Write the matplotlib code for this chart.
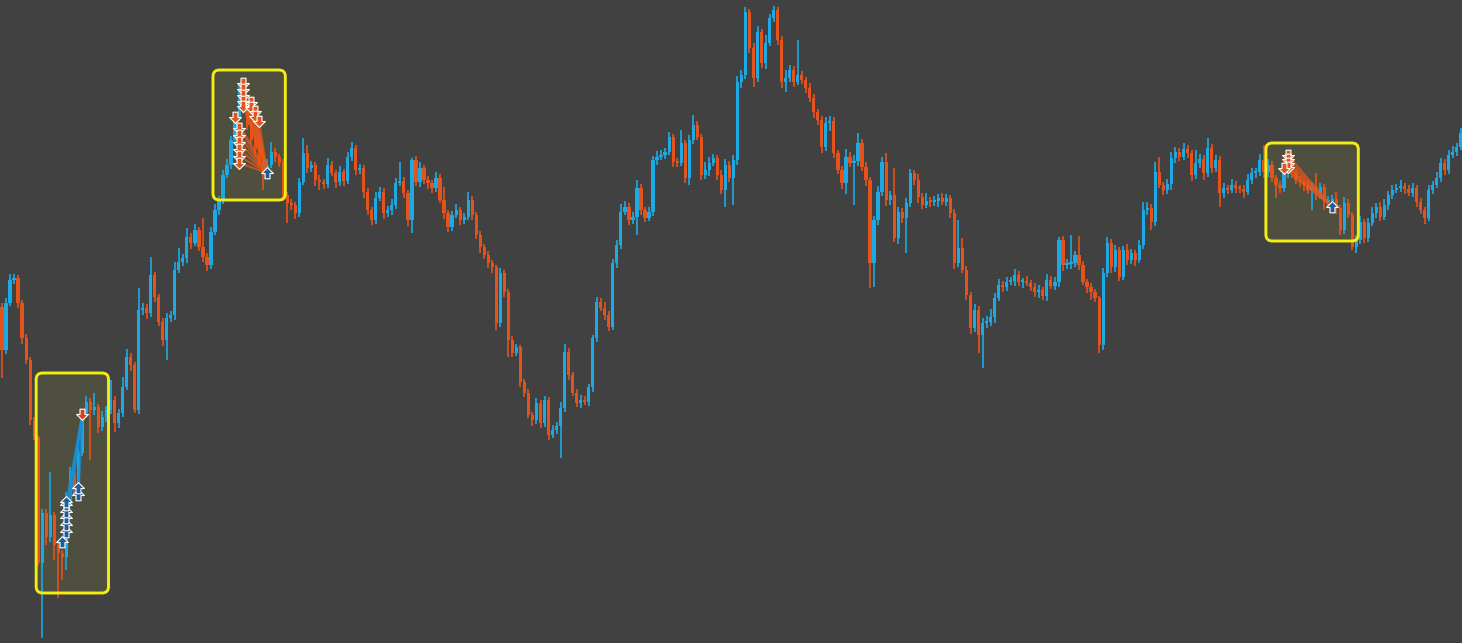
import numpy as np
import matplotlib
matplotlib.use("Agg")
import matplotlib.pyplot as plt
from matplotlib.patches import FancyBboxPatch
from matplotlib.path import Path

# ---------------- data ----------------
first_open = 336
closes = [
    293, 340, 363, 365, 340, 305, 283, 223, 206, 80, 130, 106, 128, 98, 90, 86, 143, 170, 153, 190,
    230, 241, 233, 236, 216, 226, 233, 243, 220, 230, 256, 286, 278, 233, 333, 335, 330, 368, 346, 321,
    303, 325, 328, 373, 381, 385, 406, 400, 413, 396, 386, 378, 411, 433, 443, 468, 478, 503, 525, 548,
    533, 518, 503, 493, 481, 468, 478, 491, 486, 480, 448, 440, 438, 430, 461, 490, 475, 478, 463, 461,
    459, 478, 470, 461, 471, 462, 486, 495, 473, 475, 451, 433, 423, 445, 451, 430, 433, 438, 460, 462,
    450, 423, 483, 461, 475, 463, 460, 455, 465, 443, 430, 416, 428, 433, 423, 426, 443, 428, 408, 396,
    388, 380, 376, 320, 370, 351, 303, 290, 296, 261, 250, 228, 223, 240, 220, 243, 208, 213, 217, 235,
    291, 268, 250, 240, 243, 241, 256, 305, 341, 335, 328, 316, 380, 398, 431, 436, 423, 426, 455, 433,
    425, 431, 483, 486, 488, 491, 506, 481, 480, 500, 465, 503, 518, 506, 468, 473, 480, 485, 468, 453,
    478, 465, 483, 561, 568, 631, 595, 565, 611, 580, 600, 625, 633, 603, 561, 565, 573, 561, 568, 563,
    555, 545, 531, 523, 496, 520, 522, 490, 473, 460, 486, 480, 482, 500, 476, 463, 380, 423, 451, 481,
    443, 448, 405, 431, 425, 440, 470, 463, 446, 438, 442, 441, 442, 445, 441, 445, 430, 380, 395, 373,
    348, 315, 333, 308, 320, 321, 326, 345, 358, 356, 361, 362, 368, 361, 362, 360, 356, 351, 353, 347,
    363, 357, 361, 403, 378, 379, 380, 388, 378, 361, 356, 351, 345, 298, 370, 400, 376, 393, 366, 393,
    383, 390, 383, 398, 433, 435, 421, 471, 458, 453, 459, 485, 491, 486, 494, 490, 468, 480, 484, 470,
    495, 475, 483, 450, 455, 453, 458, 455, 454, 451, 463, 470, 471, 483, 471, 478, 465, 458, 455, 470,
    483, 471, 463, 461, 458, 453, 456, 448, 456, 441, 442, 444, 435, 413, 440, 428, 396, 403, 421, 405,
    420, 430, 436, 426, 438, 448, 453, 455, 457, 454, 450, 455, 441, 433, 425, 453, 458, 465, 480, 473,
    488, 491, 496, 510,
]
wick_up = [
    4, 5, 6, 4, 3, 3, 4, 3, 3, 2, 4, 4, 43, 3, 4, 3, 8, 6, 3, 5,
    4, 6, 4, 14, 3, 6, 4, 20, 4, 4, 10, 8, 4, 3, 22, 5, 4, 18, 3, 3,
    4, 5, 4, 8, 14, 4, 9, 4, 6, 3, 29, 4, 5, 6, 4, 5, 6, 4, 5, 10,
    4, 5, 3, 4, 3, 4, 6, 10, 4, 3, 4, 3, 4, 3, 4, 15, 8, 4, 3, 5,
    3, 7, 4, 3, 6, 3, 5, 6, 3, 4, 3, 4, 3, 6, 5, 4, 4, 6, 5, 19,
    4, 3, 2, 4, 6, 3, 4, 3, 6, 4, 13, 3, 4, 6, 3, 4, 8, 4, 3, 4,
    3, 4, 3, 2, 5, 3, 3, 4, 3, 2, 3, 4, 3, 5, 3, 4, 3, 5, 4, 6,
    8, 4, 3, 4, 5, 4, 3, 3, 5, 4, 6, 4, 4, 5, 8, 6, 4, 5, 8, 4,
    3, 5, 4, 6, 5, 4, 5, 3, 4, 13, 3, 5, 10, 4, 3, 8, 6, 4, 3, 5,
    6, 4, 5, 6, 5, 5, 3, 5, 6, 3, 8, 4, 4, 3, 4, 8, 5, 4, 35, 4,
    3, 5, 4, 3, 4, 6, 5, 4, 3, 4, 8, 5, 6, 10, 4, 5, 3, 4, 6, 5,
    9, 4, 27, 5, 4, 5, 4, 3, 6, 4, 8, 4, 5, 4, 5, 4, 3, 4, 28, 10,
    4, 3, 6, 4, 5, 6, 8, 5, 6, 4, 5, 4, 6, 4, 3, 5, 3, 4, 5, 3,
    6, 4, 5, 3, 4, 5, 28, 4, 19, 4, 3, 4, 3, 2, 5, 6, 4, 5, 3, 4,
    6, 4, 3, 5, 8, 6, 4, 10, 15, 3, 5, 6, 5, 4, 6, 4, 3, 13, 5, 4,
    10, 4, 5, 4, 5, 3, 6, 4, 3, 4, 6, 5, 4, 6, 15, 6, 4, 3, 4, 5,
    6, 4, 3, 4, 3, 4, 5, 14, 4, 3, 5, 4, 7, 3, 6, 4, 3, 5, 6, 3,
    5, 6, 4, 5, 6, 4, 5, 4, 6, 3, 4, 5, 3, 4, 3, 5, 4, 6, 5, 4,
    5, 6, 4, 5,
]
wick_dn = [
    28, 4, 3, 4, 5, 6, 4, 5, 3, 3, 75, 8, 5, 15, 45, 23, 13, 5, 6, 4,
    3, 4, 50, 5, 6, 4, 5, 4, 9, 5, 4, 3, 6, 3, 4, 5, 6, 4, 5, 4,
    6, 20, 4, 5, 3, 4, 5, 6, 3, 4, 5, 6, 4, 3, 5, 4, 3, 4, 5, 3,
    4, 5, 4, 6, 5, 15, 4, 3, 5, 4, 6, 20, 5, 6, 4, 3, 5, 4, 6, 8,
    5, 4, 3, 6, 4, 5, 3, 4, 5, 4, 6, 5, 5, 4, 3, 6, 4, 5, 4, 3,
    5, 6, 13, 4, 5, 4, 6, 5, 4, 3, 6, 5, 4, 3, 5, 4, 3, 5, 4, 6,
    4, 5, 6, 7, 4, 5, 17, 4, 3, 5, 4, 3, 6, 4, 5, 4, 5, 3, 4, 32,
    4, 5, 3, 4, 5, 3, 4, 5, 4, 3, 5, 4, 3, 5, 4, 3, 5, 4, 18, 5,
    4, 3, 4, 5, 3, 4, 3, 5, 4, 3, 5, 7, 4, 3, 5, 4, 6, 3, 5, 4,
    17, 4, 27, 5, 6, 4, 5, 9, 4, 5, 6, 3, 4, 5, 6, 10, 4, 5, 3, 4,
    5, 4, 6, 5, 6, 4, 8, 5, 4, 6, 11, 4, 42, 5, 4, 6, 25, 24, 5, 4,
    6, 5, 4, 6, 5, 35, 4, 5, 6, 4, 3, 5, 4, 6, 3, 4, 5, 6, 4, 3,
    5, 6, 4, 18, 33, 5, 4, 6, 3, 5, 4, 3, 5, 4, 6, 3, 4, 5, 6, 4,
    5, 3, 4, 5, 6, 4, 5, 4, 5, 3, 6, 8, 4, 8, 5, 4, 6, 5, 4, 3,
    5, 4, 6, 3, 4, 5, 8, 4, 3, 5, 4, 6, 5, 4, 3, 5, 6, 4, 5, 7,
    4, 5, 4, 14, 5, 4, 3, 5, 4, 6, 3, 4, 5, 4, 6, 5, 4, 13, 5, 4,
    5, 6, 4, 5, 6, 4, 20, 5, 4, 8, 5, 4, 6, 5, 4, 3, 3, 6, 4, 5,
    4, 3, 5, 4, 3, 5, 4, 3, 4, 5, 3, 4, 5, 4, 6, 3, 4, 3, 4, 5,
    4, 3, 4, 3,
]

# highlighted trade zones (candle index range, price range)
zone_start = [9, 53, 315]
zone_end = [26, 70, 337]
zone_high = [270, 573, 500]
zone_low = [50, 443, 402]

# zone 1: buy trades
buy_idx = [15, 16, 16, 16, 16, 16, 16, 19, 19]
buy_price = [101, 111, 118, 125, 131, 138, 141, 148, 155]
buy_exit_idx = 20
buy_exit_price = 229

# zone 2: sell trades
sell2_idx = [60, 60, 60, 60, 60, 62, 62, 63, 63, 64, 58, 59, 59, 59, 59, 59, 59]
sell2_price = [560, 554, 548, 542, 537, 541, 536, 532, 527, 522, 526, 515, 508, 501, 494, 487, 480]
sell2_exit_idx = 66
sell2_exit_price = 470

# zone 3: sell trades
sell3_idx = [320, 320, 320, 320, 319]
sell3_price = [488, 484, 480, 476, 475]
sell3_exit_idx = 331
sell3_exit_price = 436

# ---------------- style ----------------
BG = "#414141"
BULL = "#1ca9e4"
BEAR = "#e5521a"
ZONE_EDGE = "#f2ee12"

fig = plt.figure(figsize=(14.62, 6.43), dpi=100)
fig.patch.set_facecolor(BG)
ax = fig.add_axes([0, 0, 1, 1])
ax.set_facecolor(BG)
ax.set_axis_off()

closes_a = np.array(closes, dtype=float)
opens_a = np.r_[first_open, closes_a[:-1]]
n = len(closes_a)
x = np.arange(n)
up = closes_a >= opens_a
top = np.maximum(opens_a, closes_a)
bot = np.minimum(opens_a, closes_a)
highs = top + np.array(wick_up)
lows = bot - np.array(wick_dn)
cols = np.where(up, BULL, BEAR)

ax.vlines(x, lows, highs, colors=cols, linewidth=1.2, zorder=2)
ax.bar(x, np.maximum(top - bot, 2), bottom=bot, width=0.8,
       color=cols, linewidth=0, zorder=2)

# zones
for s, e, hi, lo in zip(zone_start, zone_end, zone_high, zone_low):
    x0, x1 = s - 0.5, e + 0.5
    kw = dict(boxstyle="round,pad=0,rounding_size=1.6", mutation_aspect=4.02)
    ax.add_patch(FancyBboxPatch((x0, lo), x1 - x0, hi - lo, facecolor=(1, 1, 0.2, 0.08),
                                edgecolor="none", zorder=1, **kw))
    ax.add_patch(FancyBboxPatch((x0, lo), x1 - x0, hi - lo, facecolor="none",
                                edgecolor=ZONE_EDGE, linewidth=2.1, zorder=5, **kw))

# arrow markers
up_verts = [(0, 1), (1.0, 0.0), (0.42, 0.0), (0.42, -0.9), (-0.42, -0.9),
            (-0.42, 0.0), (-1.0, 0.0), (0, 1)]
up_arrow = Path(up_verts, [Path.MOVETO] + [Path.LINETO] * 6 + [Path.CLOSEPOLY])
dn_arrow = Path([(vx, -vy) for vx, vy in up_verts], up_arrow.codes)

# trade lines
for i, p in zip(buy_idx, buy_price):
    ax.plot([i, buy_exit_idx], [p, buy_exit_price], color="#1a8fd6", alpha=0.55,
            linewidth=1.6, zorder=3)
for i, p in zip(sell2_idx, sell2_price):
    ax.plot([i, sell2_exit_idx], [p, sell2_exit_price], color="#e8581c", alpha=0.7,
            linewidth=1.4, zorder=3)
for i, p in zip(sell3_idx, sell3_price):
    ax.plot([i, sell3_exit_idx], [p, sell3_exit_price], color="#e8581c", alpha=0.7,
            linewidth=1.4, zorder=3)

mk = dict(linestyle="none", markersize=8.5, markeredgecolor="white",
          markeredgewidth=0.8, zorder=6)
ax.plot(buy_idx, buy_price, marker=up_arrow, markerfacecolor="#1d5d9a", **mk)
ax.plot([buy_exit_idx], [buy_exit_price], marker=dn_arrow, markerfacecolor="#d8401c", **mk)
ax.plot(sell2_idx, sell2_price, marker=dn_arrow, markerfacecolor="#e0561e", **mk)
ax.plot([sell2_exit_idx], [sell2_exit_price], marker=up_arrow, markerfacecolor="#1d5d9a", **mk)
ax.plot(sell3_idx, sell3_price, marker=dn_arrow, markerfacecolor="#e0561e", **mk)
ax.plot([sell3_exit_idx], [sell3_exit_price], marker=up_arrow, markerfacecolor="#1d5d9a", **mk)

ax.set_xlim(-0.5, n - 0.7)
ax.set_ylim(0, 643)

fig.savefig("out.png", dpi=100, facecolor=BG)
